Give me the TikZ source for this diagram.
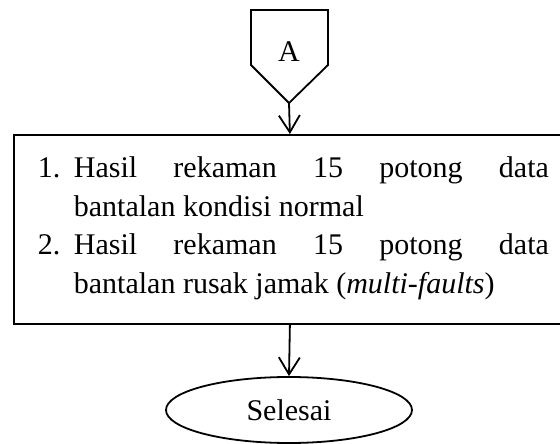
\documentclass[tikz,border=0pt]{standalone}
\usepackage{fontspec}
\setmainfont{Liberation Serif}
\usetikzlibrary{shapes.geometric,arrows.meta}
\begin{document}
\begin{tikzpicture}[x=1pt,y=-1pt, line width=1.8pt,
  conn/.style={-{Straight Barb[length=17pt,width=21pt,line width=1.8pt]}},
  txt/.style={font=\fontsize{30}{38.5}\selectfont, inner sep=0pt}]
\useasboundingbox (0,0) rectangle (560,444);
\draw (251,10) -- (328,10) -- (328,65) -- (289,103) -- (251,65) -- cycle;
\coordinate (Atip) at (289,103);
\node[txt] (A) at (289,52) {A};
\node[draw, minimum width=552pt, minimum height=189pt, inner sep=0pt, anchor=north west] (box) at (13,134) {};
\node[txt, align=left, anchor=north west] (list) at (37,156) {%
\makebox[36pt][l]{1.}\makebox[475pt][s]{Hasil rekaman 15 potong data}\\
\hspace*{36pt}bantalan kondisi normal\\
\makebox[36pt][l]{2.}\makebox[475pt][s]{Hasil rekaman 15 potong data}\\
\hspace*{36pt}bantalan rusak jamak (\textit{multi-faults})};
\node[draw, ellipse, minimum width=246pt, minimum height=66pt, txt] (end) at (289,410) {\raisebox{-5pt}{Selesai}};
\draw[conn] (Atip) -- (box.north);
\draw[conn] (box.south) -- (end.north);
\end{tikzpicture}
\end{document}
